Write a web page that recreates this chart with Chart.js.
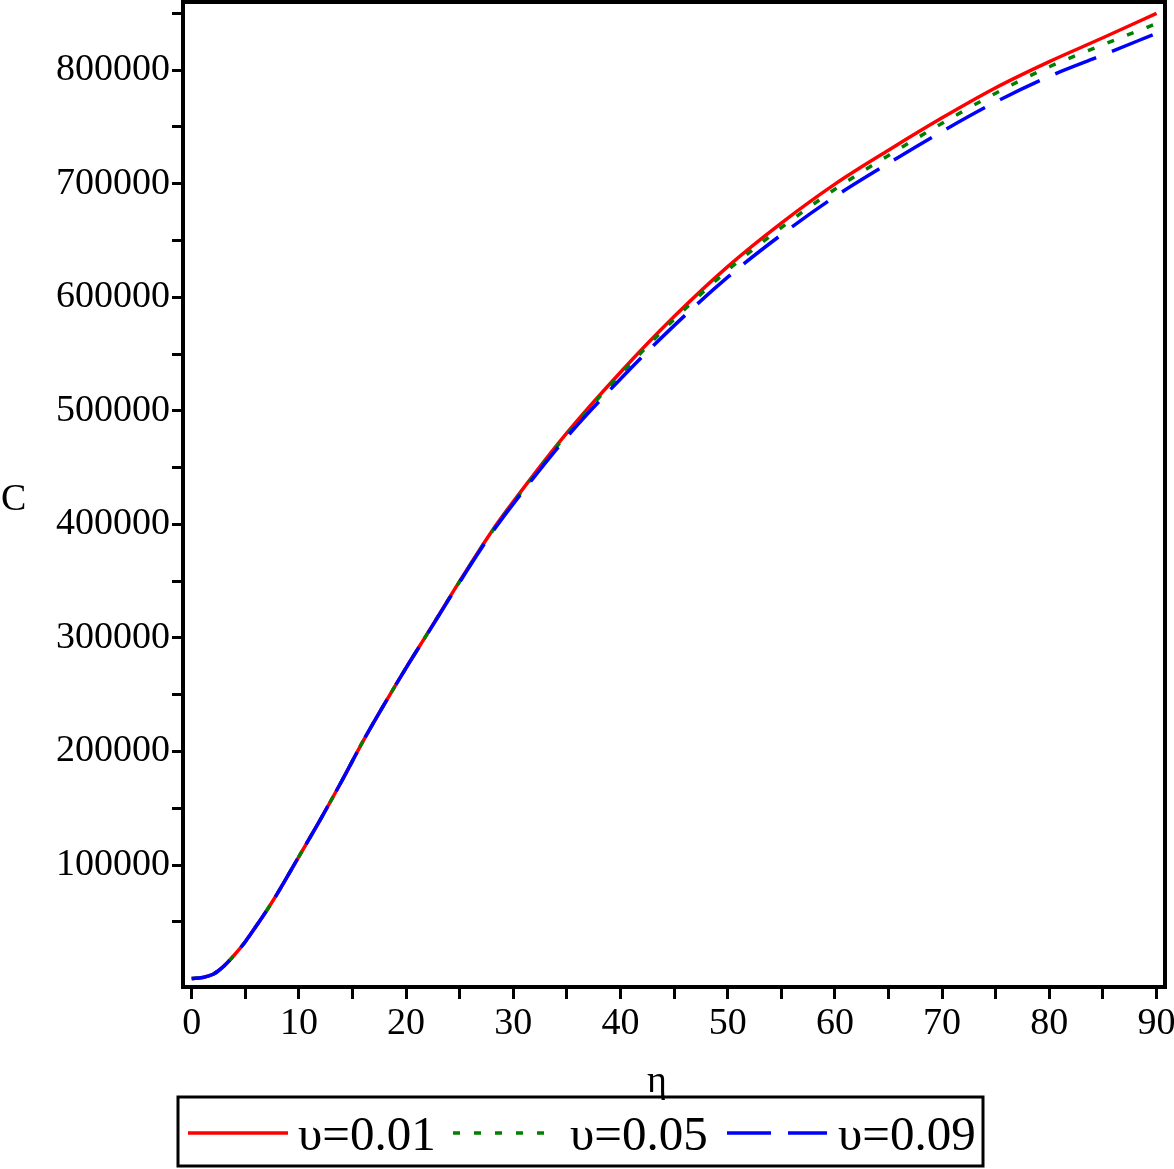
<!DOCTYPE html>
<html>
<head>
<meta charset="utf-8">
<script src="https://cdn.jsdelivr.net/npm/chart.js@4.4.1/dist/chart.umd.min.js"></script>
<style>
  body { margin: 0; background: #fff; }
  #wrap { width: 1174px; height: 1169px; }
</style>
</head>
<body>
<div id="wrap"><canvas id="grafico" width="1174" height="1169"></canvas></div>
<script>
// valores (eta -> C)
const eta = [0, 1, 2, 3, 4, 5, 6, 7, 8, 10, 12, 14, 16, 18, 20, 22, 25, 28, 30, 35, 40, 45, 50, 55, 60, 65, 70, 75, 80, 85, 90];
const c001 = [0, 900, 3800, 11000, 21000, 32500, 46000, 60000, 75000, 107500, 140000, 174000, 209400, 242200, 273700, 304000, 350000, 394000, 420000, 480500, 534000, 583000, 627000, 665300, 699600, 729500, 758000, 784500, 807500, 828500, 850000];
const c005 = [0, 900, 3800, 11000, 21000, 32500, 46000, 60000, 75000, 107500, 140000, 174000, 209400, 242200, 273700, 304000, 349700, 393500, 419300, 479300, 532200, 580500, 623800, 661300, 695100, 724900, 753200, 779700, 803000, 822300, 841000];
const c009 = [0, 900, 3800, 11000, 21000, 32500, 46000, 60000, 75000, 107500, 140000, 174000, 209400, 242200, 273700, 303700, 349200, 392500, 418000, 477000, 528000, 575000, 617700, 655000, 688600, 718000, 746000, 772000, 794500, 813300, 832500];
const rotulos = ['υ=0.01', 'υ=0.05', 'υ=0.09'];
const ticksX = [0, 5, 10, 15, 20, 25, 30, 35, 40, 45, 50, 55, 60, 65, 70, 75, 80, 85, 90];
const ticksY = [50000, 100000, 150000, 200000, 250000, 300000, 350000, 400000, 450000, 500000, 550000, 600000, 650000, 700000, 750000, 800000, 850000];

const fonte = 'Liberation Serif, Times New Roman, serif';

function pontos(ys) {
    return eta.map((x, i) => ({ x: x, y: ys[i] }));
}

// moldura, títulos dos eixos e legenda em caixa
const extras = {
    id: 'extras',
    afterDraw(chart) {
        const ctx = chart.ctx;
        const a = chart.chartArea;
        ctx.save();
        ctx.strokeStyle = '#000';
        ctx.lineWidth = 4;
        ctx.beginPath();
        ctx.moveTo(a.left, a.top);
        ctx.lineTo(a.right, a.top);
        ctx.lineTo(a.right, a.bottom);
        ctx.stroke();

        ctx.fillStyle = '#000';
        ctx.font = '38px ' + fonte;
        ctx.textBaseline = 'alphabetic';
        ctx.textAlign = 'left';
        ctx.fillText('C', 1, 510);
        ctx.textAlign = 'center';
        ctx.fillText('η', 657, 1092);

        // legenda
        ctx.lineWidth = 3;
        ctx.strokeRect(178, 1097, 805, 69);
        ctx.font = '49px ' + fonte;
        ctx.textAlign = 'left';
        const inicioLinha = [188, 453, 727];
        const inicioTexto = [298, 570, 838];
        const ordem = chart.data.datasets.slice().sort((p, q) => q.order - p.order);
        ordem.forEach((ds, i) => {
            ctx.strokeStyle = ds.borderColor;
            ctx.lineWidth = 3.5;
            ctx.setLineDash(ds.borderDash || []);
            ctx.beginPath();
            ctx.moveTo(inicioLinha[i], 1133);
            ctx.lineTo(inicioLinha[i] + 100, 1133);
            ctx.stroke();
            ctx.setLineDash([]);
            ctx.fillText(ds.label, inicioTexto[i], 1150);
        });
        ctx.restore();
    }
};

const ctx = document.getElementById('grafico').getContext('2d');
const grafico = new Chart(ctx, {
    type: 'line',
    data: {
        datasets: [{
            label: rotulos[0],
            data: pontos(c001),
            borderColor: '#ff0000',
            borderWidth: 3.5,
            order: 2
        }, {
            label: rotulos[1],
            data: pontos(c005),
            borderColor: '#008000',
            borderWidth: 3.5,
            borderDash: [7, 14],
            order: 1
        }, {
            label: rotulos[2],
            data: pontos(c009),
            borderColor: '#0000ff',
            borderWidth: 3.5,
            borderDash: [44, 17],
            order: 0
        }]
    },
    options: {
        responsive: false,
        devicePixelRatio: 1,
        animation: false,
        cubicInterpolationMode: 'monotone',
        elements: { point: { radius: 0 } },
        layout: { padding: { top: 2, right: 9, left: 0, bottom: 0 } },
        plugins: {
            legend: { display: false },
            tooltip: { enabled: false }
        },
        scales: {
            x: {
                type: 'linear',
                min: -0.81,
                max: 90.79,
                afterFit: (s) => { s.height = 182; s.paddingLeft = 0; s.paddingRight = 0; },
                afterBuildTicks: (s) => { s.ticks = ticksX.map(v => ({ value: v })); },
                border: { color: '#000', width: 4 },
                grid: { drawOnChartArea: false, color: '#000', lineWidth: 3, tickLength: 12 },
                ticks: {
                    autoSkip: false,
                    maxRotation: 0,
                    padding: 2,
                    color: '#000',
                    font: { family: fonte, size: 38 },
                    callback: (v) => (v % 10 === 0 ? String(v) : '')
                }
            },
            y: {
                type: 'linear',
                min: -7400,
                max: 860000,
                afterFit: (s) => { s.width = 183; s.paddingTop = 0; s.paddingBottom = 0; },
                afterBuildTicks: (s) => { s.ticks = ticksY.map(v => ({ value: v })); },
                border: { color: '#000', width: 4 },
                grid: { drawOnChartArea: false, color: '#000', lineWidth: 3, tickLength: 11 },
                ticks: {
                    autoSkip: false,
                    padding: 2,
                    color: '#000',
                    font: { family: fonte, size: 38 },
                    callback: (v) => (v % 100000 === 0 ? String(v) : '')
                }
            }
        }
    },
    plugins: [extras]
});
</script>
</body>
</html>
